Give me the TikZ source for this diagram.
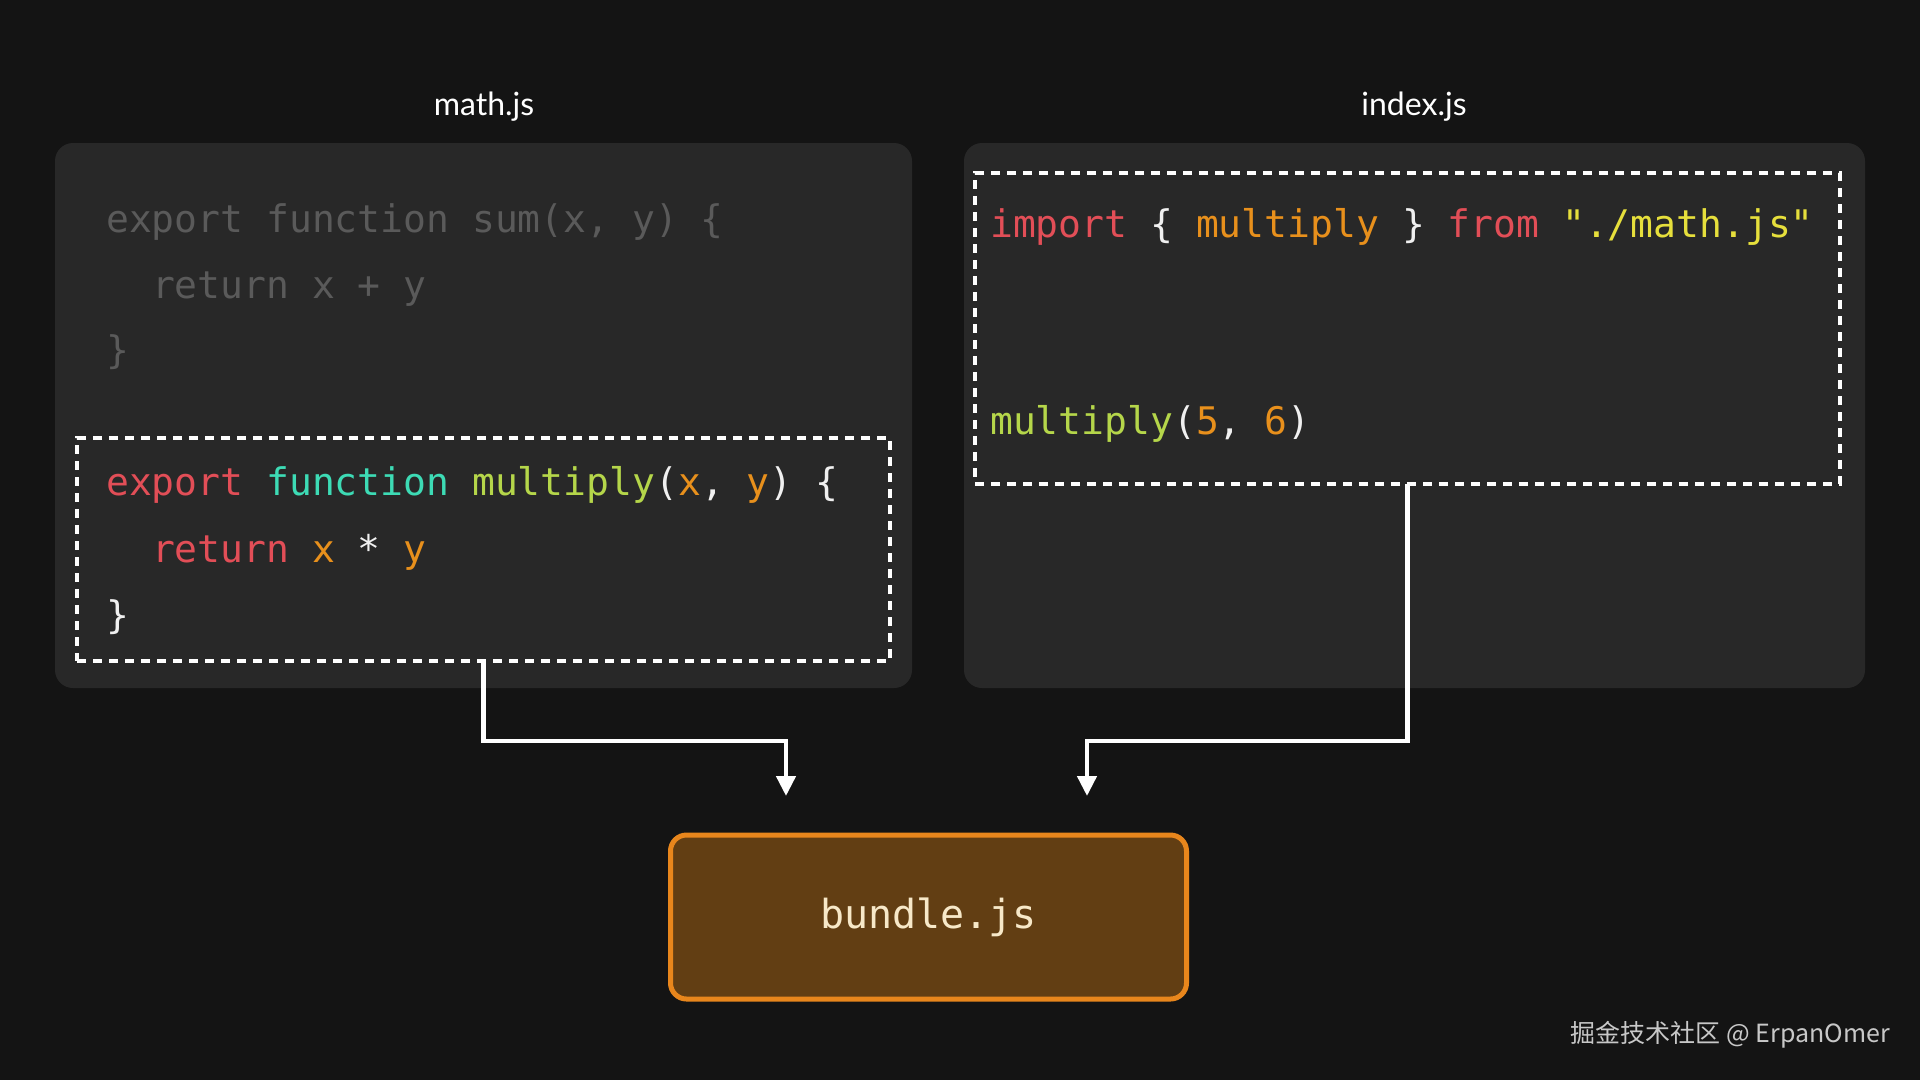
\documentclass[tikz,border=0pt]{standalone}
\usepackage{fontspec}
\setmainfont{Lato}
\setmonofont{DejaVu Sans Mono}
\newfontfamily\cjkfont{Noto Sans CJK SC}
\usetikzlibrary{arrows.meta}
\definecolor{bgc}{HTML}{141414}
\definecolor{panelc}{HTML}{282828}
\definecolor{dimc}{HTML}{5A5A5A}
\definecolor{kwc}{HTML}{E24E57}
\definecolor{fnc}{HTML}{3DDBB5}
\definecolor{callc}{HTML}{B5D64A}
\definecolor{argc}{HTML}{E8901C}
\definecolor{strc}{HTML}{E6DF3C}
\definecolor{punc}{HTML}{F0F0F0}
\definecolor{bundlefill}{HTML}{623E13}
\definecolor{bundleedge}{HTML}{E8861C}
\definecolor{bundletext}{HTML}{F7E8C8}
\definecolor{markc}{HTML}{C8C8C8}
\newcommand\kw[1]{\textcolor{kwc}{#1}}
\newcommand\fn[1]{\textcolor{fnc}{#1}}
\newcommand\cl[1]{\textcolor{callc}{#1}}
\newcommand\ar[1]{\textcolor{argc}{#1}}
\newcommand\st[1]{\textcolor{strc}{#1}}
\begin{document}
\begin{tikzpicture}[x=1pt,y=-1pt,
  panel/.style={fill=panelc, rounded corners=18pt, inner sep=0pt, outer sep=0pt},
  dashbox/.style={draw=white, line width=3.5pt, dash pattern=on 9pt off 7pt, inner sep=0pt, outer sep=0pt},
  codeline/.style={anchor=base west, inner sep=0pt, text=punc, font=\ttfamily\fontsize{38}{40}\selectfont},
  title/.style={font=\fontsize{32}{36}\selectfont, text=white, inner sep=0pt},
  conn/.style={draw=white, line width=4.5pt, -{Triangle[length=20pt,width=19pt]}},
  bundlebox/.style={draw=bundleedge, fill=bundlefill, line width=5pt, rounded corners=16pt,
    minimum width=516pt, minimum height=164pt, text=bundletext,
    font=\ttfamily\fontsize{40}{44}\selectfont}
]
\fill[bgc] (0,0) rectangle (1920,1080);
\useasboundingbox (0,0) rectangle (1920,1080);

% titles
\node[title] (t1) at (484,107) {math.js};
\node[title] (t2) at (1414,107) {index.js};

% panels
\node[panel, minimum width=857pt, minimum height=545pt] (p1) at (483.5,415.5) {};
\node[panel, minimum width=901pt, minimum height=545pt] (p2) at (1414.5,415.5) {};

% dashed boxes
\node[dashbox, minimum width=813pt, minimum height=223pt] (mulbox) at (483.5,549.5) {};
\node[dashbox, minimum width=865pt, minimum height=311pt] (impbox) at (1407.5,328.5) {};

% math.js code
\node[codeline, text=dimc] (s1) at (106,232) {export function sum(x, y) \{};
\node[codeline, text=dimc] (s2) at (151.8,298) {return x + y};
\node[codeline, text=dimc] (s3) at (106,363) {\}};
\node[codeline] (m1) at (106,495) {\kw{export} \fn{function} \cl{multiply}(\ar{x}, \ar{y}) \{};
\node[codeline] (m2) at (151.8,562) {\kw{return} \ar{x} * \ar{y}};
\node[codeline] (m3) at (106,628) {\}};

% index.js code
\node[codeline] (i1) at (990,237) {\kw{import} \{ \ar{multiply} \} \kw{from} \st{"./math.js"}};
\node[codeline] (i2) at (990,434) {\cl{multiply}(\ar{5}, \ar{6})};

% bundle
\node[bundlebox] (bundle) at (928.5,917) {\raisebox{-3pt}{bundle.js}};

% connectors
\coordinate (ltip) at (786,796);
\coordinate (rtip) at (1087,796);
\draw[conn] (mulbox.south) -- ++(0,80) -| (ltip);
\draw[conn] (impbox.south) -- ++(0,257) -| (rtip);

% watermark
\node[anchor=east, inner sep=0pt, text=markc, font=\cjkfont\fontsize{25}{28}\selectfont] (wm) at (1890,1035) {掘金技术社区 @ ErpanOmer};
\end{tikzpicture}
\end{document}
